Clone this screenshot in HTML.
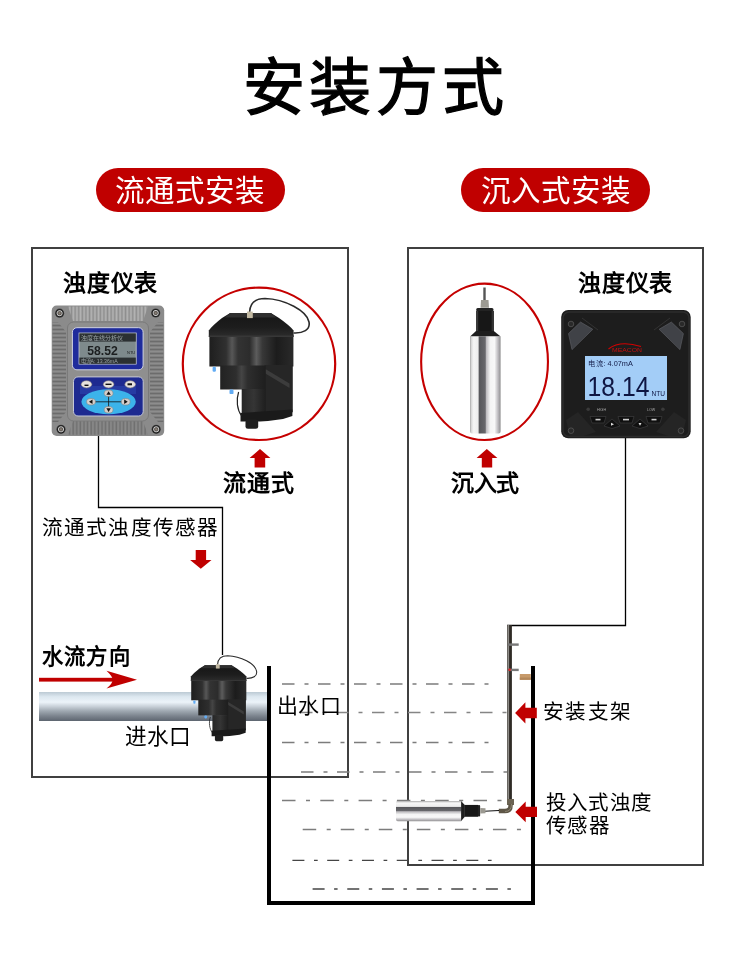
<!DOCTYPE html>
<html lang="zh-CN">
<head>
<meta charset="utf-8">
<style>
html,body{margin:0;padding:0;background:#fff;}
body{width:750px;height:962px;position:relative;overflow:hidden;font-family:"Liberation Sans",sans-serif;color:#000;}
.t{position:absolute;white-space:nowrap;line-height:1;will-change:transform;}
.b{font-weight:bold;}
.pill{position:absolute;top:168px;width:189px;height:44px;border-radius:22px;background:#c00000;}
.box{position:absolute;top:247px;border:2px solid #404040;box-sizing:border-box;}
svg{position:absolute;left:0;top:0;}
</style>
</head>
<body>
<div class="t" style="left:243.2px;top:58.2px;font-size:62px;letter-spacing:4.3px;-webkit-text-stroke:1.3px #000;">安装方式</div>

<div class="pill" style="left:96px;"></div>
<div class="pill" style="left:461px;"></div>
<div class="t" style="left:114.6px;top:176px;font-size:29.5px;color:#fff;">流通式安装</div>
<div class="t" style="left:481.1px;top:176px;font-size:29.5px;color:#fff;">沉入式安装</div>

<div class="box" style="left:31px;width:318px;height:531px;"></div>
<div class="box" style="left:407px;width:297px;height:619px;"></div>

<svg width="750" height="962" viewBox="0 0 750 962">
  <defs>
    <linearGradient id="pipe" x1="0" y1="0" x2="0" y2="1">
      <stop offset="0" stop-color="#bccad4"/>
      <stop offset="0.165" stop-color="#dde8f0"/>
      <stop offset="0.35" stop-color="#ecf3f9"/>
      <stop offset="0.5" stop-color="#c8d0d8"/>
      <stop offset="0.66" stop-color="#9ea7b0"/>
      <stop offset="0.83" stop-color="#7b838d"/>
      <stop offset="1" stop-color="#5d6570"/>
    </linearGradient>
  </defs>
  <!-- connection lines -->
  <g stroke="#000" stroke-width="1.3" fill="none">
    <polyline points="98.5,435 98.5,507.5 222.5,507.5 222.5,655"/>
    <polyline points="625.5,438 625.5,625.5 507,625.5"/>
  </g>
  <!-- pipe -->
  <rect x="39" y="692" width="228" height="29" fill="url(#pipe)"/>
  <!-- dashed water lines -->
  <g stroke="#7c7c7c" stroke-width="1.6" fill="none">
    <line x1="282" y1="684" x2="489" y2="684" stroke-dasharray="12.5 10 4 9.5"/>
    <line x1="300" y1="712.5" x2="507" y2="712.5" stroke-dasharray="12.5 10 4 9.5" stroke="#858585" stroke-width="1.5"/>
    <line x1="282" y1="742.5" x2="489" y2="742.5" stroke-dasharray="12.5 10 4 9.5"/>
    <line x1="301" y1="772" x2="507" y2="772" stroke-dasharray="12.5 10 4 9.5"/>
    <line x1="282" y1="800.5" x2="502" y2="800.5" stroke-dasharray="13.5 10.5 4 10.3"/>
    <line x1="302.7" y1="829.5" x2="522" y2="829.5" stroke-dasharray="13.5 10.5 4 10.05"/>
    <line x1="292.4" y1="860.3" x2="492" y2="860.3" stroke-dasharray="12 9.6 3.7 9.48" stroke="#454545" stroke-width="1.35"/>
    <line x1="312.6" y1="889" x2="512" y2="889" stroke-dasharray="12 9.5 3.5 9.66" stroke="#454545" stroke-width="1.35"/>
  </g>
  <!-- tank -->
  <g fill="#000">
    <rect x="267" y="666" width="4" height="239"/>
    <rect x="531" y="666" width="4" height="239"/>
    <rect x="267" y="901" width="268" height="4"/>
  </g>
  <!-- LEFT INSTRUMENT -->
  <defs>
    <pattern id="ribV" x="0" y="0" width="3.6" height="10" patternUnits="userSpaceOnUse">
      <rect width="3.6" height="10" fill="#8d8d8d"/><rect x="0.4" width="1.9" height="10" fill="#b3b3b3"/>
    </pattern>
    <pattern id="ribV2" x="0" y="0" width="3.6" height="10" patternUnits="userSpaceOnUse">
      <rect width="3.6" height="10" fill="#8a8a8a"/><rect x="0.4" width="1.6" height="10" fill="#6f6f6f"/>
    </pattern>
    <pattern id="ribH" x="0" y="0" width="10" height="4" patternUnits="userSpaceOnUse">
      <rect width="10" height="4" fill="#8d8d8d"/><rect y="0.6" width="10" height="1.8" fill="#6c6c6c"/>
    </pattern>
    <radialGradient id="screw" cx="0.5" cy="0.5" r="0.5">
      <stop offset="0" stop-color="#9a8f84"/><stop offset="0.35" stop-color="#5a5550"/><stop offset="0.55" stop-color="#c9c9c9"/><stop offset="0.75" stop-color="#1c1c1c"/><stop offset="1" stop-color="#444"/>
    </radialGradient>
  </defs>
  <g>
    <rect x="51.7" y="305.6" width="112.5" height="130.4" rx="5" fill="#8b8b8b"/>
    <path d="M68,306.5 L148,306.5 L143,321 L73,321 Z" fill="url(#ribV)"/>
    <path d="M52.5,322 L58,322 L66,332 L66,412 L58,422 L52.5,422 Z" fill="url(#ribH)"/>
    <path d="M163.3,322 L158,322 L150,332 L150,412 L158,422 L163.3,422 Z" fill="url(#ribH)"/>
    <path d="M73,421 L143,421 L148,434.8 L68,434.8 Z" fill="url(#ribV2)"/>
    <rect x="67.5" y="322" width="81" height="99" rx="6" fill="#8f8f8f" stroke="#7a7a7a" stroke-width="1"/>
    <circle cx="59.6" cy="313.2" r="4.6" fill="url(#screw)"/>
    <circle cx="155.7" cy="313" r="4.6" fill="url(#screw)"/>
    <circle cx="61" cy="429.3" r="4.6" fill="url(#screw)"/>
    <circle cx="156.2" cy="429.3" r="4.6" fill="url(#screw)"/>
    <rect x="72.4" y="327.7" width="70.7" height="42.1" rx="4.5" fill="#1f2c9c" stroke="#d0d3e2" stroke-width="1"/>
    <rect x="79" y="333" width="57.2" height="31.1" fill="#7e8a8c" stroke="#c7cacc" stroke-width="0.8"/>
    <rect x="79.4" y="333.4" width="56.4" height="8.2" fill="#2b3032"/>
    <rect x="79.4" y="357.6" width="56.4" height="6.2" fill="#2b3032"/>
    <text x="87.3" y="354.5" font-family="Liberation Sans, sans-serif" font-size="13.2" font-weight="bold" fill="#1c1f20" textLength="30.5" lengthAdjust="spacingAndGlyphs">58.52</text>
    <text x="127" y="354" font-family="Liberation Sans, sans-serif" font-size="4" fill="#1a1d1e">NTU</text>
    <text x="80.5" y="340" font-family="Liberation Sans, sans-serif" font-size="6" fill="#9aa3a5">浊度在线分析仪</text>
    <text x="80.5" y="363" font-family="Liberation Sans, sans-serif" font-size="5.2" fill="#9aa3a5">电流A: 13.36mA</text>
    <rect x="73.5" y="376.9" width="69.7" height="39.1" rx="4.5" fill="#1e2a90" stroke="#c5c8d6" stroke-width="1"/>
    <rect x="80" y="386" width="56" height="8" fill="#2b47b0" opacity="0.6"/>
    <ellipse cx="108.6" cy="401.8" rx="27.2" ry="12.5" fill="#3cb3ea"/>
    <g stroke="#111" stroke-width="0.8"><line x1="94" y1="401.8" x2="123" y2="401.8"/><line x1="108.6" y1="395" x2="108.6" y2="408.5"/></g>
    <g fill="#d5cfcb" stroke="#8c8580" stroke-width="0.6">
      <ellipse cx="86.5" cy="384.3" rx="5.3" ry="3.6" fill="#e6e2de"/>
      <ellipse cx="108.6" cy="384.3" rx="5.3" ry="3.6" fill="#e6e2de"/>
      <ellipse cx="130.2" cy="384.3" rx="5.3" ry="3.6" fill="#e6e2de"/>
      <ellipse cx="108.6" cy="393.3" rx="4.4" ry="3.3"/>
      <ellipse cx="91" cy="401.8" rx="4.4" ry="3.3"/>
      <ellipse cx="125.7" cy="401.8" rx="4.4" ry="3.3"/>
      <ellipse cx="108.6" cy="409.8" rx="4.4" ry="3.3"/>
    </g>
    <g fill="#111">
      <polygon points="108.6,391.2 110.8,394.8 106.4,394.8"/>
      <polygon points="108.6,411.9 110.8,408.3 106.4,408.3"/>
      <polygon points="89,401.8 92.5,399.6 92.5,404"/>
      <polygon points="127.7,401.8 124.2,399.6 124.2,404"/>
      <rect x="127.5" y="383.3" width="4.5" height="2" />
      <rect x="105.5" y="383.6" width="6" height="1.4" />
      <rect x="84.5" y="384.6" width="4" height="1.4" />
    </g>
  </g>

  <!-- RIGHT INSTRUMENT -->
  <g>
    <rect x="561.2" y="310" width="129.5" height="128.2" rx="7" fill="#1d1d1d"/>
    <rect x="563" y="312" width="126" height="124.5" rx="6" fill="none" stroke="#2c2c2c" stroke-width="1.5"/>
    <path d="M580.5,322.1 L592.8,329.3 L572,349.6 L568.5,333.6 Z" fill="#404247" stroke="#5a5c61" stroke-width="0.7"/>
    <path d="M671.4,322.1 L659.1,329.3 L679.9,349.6 L683.4,333.6 Z" fill="#404247" stroke="#5a5c61" stroke-width="0.7"/>
    <path d="M582,318 L598,330" stroke="#333" stroke-width="1"/>
    <path d="M670,318 L654,330" stroke="#333" stroke-width="1"/>
    <path d="M566,420 L578,412 L596,432 L584,436 L570,436 Z" fill="#252525"/>
    <path d="M686,420 L674,412 L656,432 L668,436 L682,436 Z" fill="#252525"/>
    <circle cx="571" cy="324" r="2.8" fill="#2a2a2a" stroke="#555" stroke-width="0.8"/>
    <circle cx="682" cy="324" r="2.8" fill="#2a2a2a" stroke="#555" stroke-width="0.8"/>
    <circle cx="571" cy="430.7" r="2.8" fill="#2a2a2a" stroke="#555" stroke-width="0.8"/>
    <circle cx="681" cy="430.7" r="2.8" fill="#2a2a2a" stroke="#555" stroke-width="0.8"/>
    <rect x="585" y="356" width="82" height="44" fill="#a3cdf7"/>
    <path d="M608.5,349 Q620,340 641,346.5" fill="none" stroke="#d40000" stroke-width="1.1"/>
    <text x="612" y="351.5" font-family="Liberation Sans, sans-serif" font-size="5.4" fill="#c41010" textLength="30" lengthAdjust="spacingAndGlyphs">MEACON</text>
    <text x="588.4" y="366" font-family="Liberation Sans, sans-serif" font-size="6.8" fill="#141c48" textLength="44.4" lengthAdjust="spacingAndGlyphs">电流:  4.07mA</text>
    <text x="587.6" y="395.6" font-family="Liberation Sans, sans-serif" font-size="27.5" fill="#0e1542" textLength="62" lengthAdjust="spacingAndGlyphs">18.14</text>
    <text x="651.6" y="395.7" font-family="Liberation Sans, sans-serif" font-size="6.6" fill="#0e1542" textLength="13.5" lengthAdjust="spacingAndGlyphs">NTU</text>
    <circle cx="588.2" cy="409.2" r="1.8" fill="#3a3a3a"/>
    <circle cx="662.9" cy="409.2" r="1.8" fill="#3a3a3a"/>
    <text x="597" y="410.8" font-family="Liberation Sans, sans-serif" font-size="3.6" fill="#aaa">HIGH</text>
    <text x="647" y="410.8" font-family="Liberation Sans, sans-serif" font-size="3.6" fill="#aaa">LOW</text>
    <g fill="#101010" stroke="#3c3c3e" stroke-width="0.7">
      <path d="M590,416.5 L606,416.5 L604,423 L592,423 Z"/>
      <path d="M618,416.5 L634,416.5 L632,423 L620,423 Z"/>
      <path d="M646,416.5 L662,416.5 L660,423 L648,423 Z"/>
      <path d="M612,419 L620,426 L612,428.5 L604,426 Z"/>
      <path d="M640,419 L648,426 L640,428.5 L632,426 Z"/>
    </g>
    <polygon points="611,422.8 614,424.3 611,425.8" fill="#ddd"/>
    <rect x="595.5" y="418.8" width="5" height="1.6" fill="#ccc"/><rect x="623" y="418.8" width="6" height="1.6" fill="#ccc"/><rect x="651.5" y="418.8" width="5" height="1.6" fill="#ccc"/>
    <polygon points="638.5,423 641.5,423 640,425.8" fill="#ddd"/>
  </g>

  <!-- FLOW SENSOR (big) -->
  <defs>
    <linearGradient id="bodyG" x1="0" y1="0" x2="1" y2="0">
      <stop offset="0" stop-color="#1e1e1e"/>
      <stop offset="0.2" stop-color="#303030"/>
      <stop offset="0.27" stop-color="#575757"/>
      <stop offset="0.34" stop-color="#333"/>
      <stop offset="0.48" stop-color="#2c2c2c"/>
      <stop offset="0.56" stop-color="#5c5c5c"/>
      <stop offset="0.63" stop-color="#383838"/>
      <stop offset="0.8" stop-color="#1c1c1c"/>
      <stop offset="1" stop-color="#2a2a2a"/>
    </linearGradient>
    <linearGradient id="hoodG" x1="0" y1="0" x2="0" y2="1">
      <stop offset="0" stop-color="#151515"/>
      <stop offset="0.6" stop-color="#1d1d1d"/>
      <stop offset="1" stop-color="#2c2c2c"/>
    </linearGradient>
    <linearGradient id="lowG" x1="0" y1="0" x2="1" y2="0">
      <stop offset="0" stop-color="#222"/><stop offset="0.35" stop-color="#2e2e2e"/><stop offset="0.47" stop-color="#454545"/><stop offset="0.6" stop-color="#2e2e2e"/><stop offset="1" stop-color="#1e1e1e"/>
    </linearGradient>
    <linearGradient id="colG" x1="0" y1="0" x2="1" y2="0">
      <stop offset="0" stop-color="#262626"/><stop offset="0.5" stop-color="#353535"/><stop offset="1" stop-color="#1e1e1e"/>
    </linearGradient>
    <g id="flow">
      <path d="M249.6,312 C250,303 255.5,298.5 265,298.5 C285,299 307,311 309,322 C310.5,330 303,333.5 293.6,333" fill="none" stroke="#2b2b2b" stroke-width="1.6"/>
      <rect x="209.4" y="335" width="84" height="31.5" fill="url(#bodyG)"/>
      <path d="M264.5,365 L292.8,365 L292.8,412.3 L264.5,412.3 Z" fill="#262626"/>
      <path d="M264.5,368.5 L289.5,383.5 L289.5,388 L264.5,373 Z" fill="#3c3c3c"/>
      <rect x="220.2" y="365.5" width="45.6" height="24" fill="url(#lowG)"/>
      <rect x="241.7" y="389" width="24.1" height="30" fill="url(#colG)"/>
      <path d="M240.5,413 L292.4,409.5 L292.4,416 L283,419 L268,421 L260,421.4 L240.5,421.4 Z" fill="#1a1a1a"/>
      <rect x="245.5" y="419.5" width="12.7" height="9.3" rx="2.5" fill="#1f1f1f"/>
      <path d="M230.2,312.9 L270.9,312.9 L279,318 Q289,325 293.6,330.4 L293.6,336.9 L208.8,336.9 L208.8,330.4 Q213,325 222,318 Z" fill="url(#hoodG)"/>
      <path d="M230.2,312.9 L270.9,312.9 L276.5,317.6 L224.5,317.6 Z" fill="#2f2f2f"/>
      <path d="M208.8,336.2 L293.6,336.2" stroke="#3d3d3d" stroke-width="1"/>
      <rect x="247" y="311.6" width="5.8" height="6.5" fill="#c2b9a2"/>
      <rect x="212.6" y="366.7" width="3.3" height="5" rx="1.2" fill="#62acf4"/>
      <rect x="229.5" y="389.5" width="4" height="4.6" rx="1.2" fill="#62acf4"/>
      <path d="M238.6,392 C236,400 237,410 241.7,416" fill="none" stroke="#222" stroke-width="1.2"/>
    </g>
  </defs>
  <use href="#flow"/>
  <use href="#flow" transform="translate(53.85,459.87) scale(0.656)"/>

  <!-- SUBMERSIBLE SENSOR -->
  <defs>
    <linearGradient id="steel" x1="0" y1="0" x2="1" y2="0">
      <stop offset="0" stop-color="#a0a0a0"/>
      <stop offset="0.05" stop-color="#dedede"/>
      <stop offset="0.12" stop-color="#f5f5f5"/>
      <stop offset="0.27" stop-color="#ececec"/>
      <stop offset="0.285" stop-color="#56565a"/>
      <stop offset="0.5" stop-color="#68686c"/>
      <stop offset="0.52" stop-color="#b9b7bb"/>
      <stop offset="0.66" stop-color="#f4f4f4"/>
      <stop offset="0.8" stop-color="#f8f8f8"/>
      <stop offset="0.93" stop-color="#b5b3b7"/>
      <stop offset="1" stop-color="#8e8e8e"/>
    </linearGradient>
    <g id="sub">
      <line x1="484.5" y1="287.5" x2="484.5" y2="301" stroke="#555" stroke-width="2.4"/>
      <path d="M481,300 L488.5,300 L489,307.8 L480.5,307.8 Z" fill="#9c9a92"/>
      <rect x="476.2" y="308" width="17.3" height="3.4" rx="1.5" fill="#222"/>
      <rect x="476" y="311" width="17.8" height="20.5" fill="#171717"/>
      <rect x="476" y="311" width="2.2" height="20.5" fill="#3a3a3a"/>
      <rect x="491.6" y="311" width="2.2" height="20.5" fill="#333"/>
      <path d="M476,331 L493.8,331 L500.6,336.5 L470.1,336.5 Z" fill="#1e1e1e"/>
      <path d="M470.1,336.5 L500.6,336.5 L500.6,431 Q500.6,433.6 497.6,433.6 L473.1,433.6 Q470.1,433.6 470.1,431 Z" fill="url(#steel)"/>
    </g>
  </defs>
  <use href="#sub"/>

  <!-- ROD / BRACKET -->
  <g>
    <rect x="507.1" y="625" width="4.8" height="176" fill="#2f2b25"/>
    <rect x="507.5" y="625" width="1.6" height="176" fill="#8e8c88"/>
    <rect x="508" y="643.4" width="10.7" height="2.4" fill="#777"/>
    <rect x="508" y="668.7" width="10.7" height="2.4" fill="#777"/>
    <circle cx="509.6" cy="669.8" r="1.3" fill="#e02020"/>
    <rect x="519.8" y="674" width="11" height="5.8" fill="#c79a6a"/><rect x="519.8" y="677.5" width="11" height="2.3" fill="#b3875a"/>
    <rect x="507" y="799" width="7" height="6" fill="#6b6353"/>
    <path d="M510.5,804 L510.5,806 Q510.5,811 505,811 L498.8,811" fill="none" stroke="#5e5647" stroke-width="4.4"/>
    <path d="M511.5,804 Q511.5,811.5 505,811.5" fill="none" stroke="#8a826f" stroke-width="1"/>
    <line x1="484" y1="811.2" x2="499" y2="810.5" stroke="#111" stroke-width="1.1"/>
  </g>

  <!-- HORIZONTAL SUBMERSIBLE SENSOR -->
  <g transform="matrix(0,0.666,-0.67,0,686.51,487.91)">
    <path d="M476,331 L493.8,331 L500.6,336.5 L470.1,336.5 Z" fill="#1e1e1e"/>
    <rect x="476" y="311" width="17.8" height="20.5" fill="#171717"/>
    <rect x="476.2" y="308" width="17.3" height="3.4" rx="1.5" fill="#222"/>
    <path d="M481,300 L488.5,300 L489,307.8 L480.5,307.8 Z" fill="#9c9a92"/>
    <path d="M470.1,336.5 L500.6,336.5 L500.6,431 Q500.6,433.6 497.6,433.6 L473.1,433.6 Q470.1,433.6 470.1,431 Z" fill="url(#steel)"/>
  </g>

  <!-- circle & ellipse -->
  <circle cx="259" cy="363.8" r="76.2" fill="none" stroke="#c50000" stroke-width="2.2"/>
  <ellipse cx="484.55" cy="361.8" rx="63.4" ry="78.2" fill="none" stroke="#c50000" stroke-width="2.1"/>
  <!-- red arrows -->
  <g fill="#c00000">
    <polygon points="260,449 270.4,458 265.2,458 265.2,467.6 254.6,467.6 254.6,458 249.6,458"/>
    <polygon points="486.8,449 497.4,458 492.2,458 492.2,467.6 481.8,467.6 481.8,458 476.6,458"/>
    <polygon points="195.7,550 206.1,550 206.1,560 211.5,560 200.8,568.8 190.1,560 195.7,560"/>
    <polygon points="515.1,712.9 525.4,702.2 525.4,707.8 536.8,707.8 536.8,718.3 525.4,718.3 525.4,723.4"/>
    <polygon points="515.3,811.9 525.7,801.5 525.7,806.7 537,806.7 537,817 525.7,817 525.7,822.2"/>
    <rect x="39" y="677.8" width="76" height="3.8"/>
    <path d="M137,679.7 L106.5,670.8 Q113,677 112.5,679.7 Q113,683 106.5,688.5 Z"/>
  </g>
</svg>

<div class="t b" style="left:62.8px;top:271.7px;font-size:23px;letter-spacing:0.8px;">浊度仪表</div>
<div class="t b" style="left:577.8px;top:271.7px;font-size:23px;letter-spacing:0.8px;">浊度仪表</div>
<div class="t b" style="left:223px;top:472px;font-size:23px;letter-spacing:0.75px;">流通式</div>
<div class="t b" style="left:451px;top:472px;font-size:23px;letter-spacing:-0.3px;">沉入式</div>
<div class="t" style="left:42px;top:517.6px;font-size:20.6px;letter-spacing:1.15px;">流通式浊度传感器</div>
<div class="t b" style="left:42px;top:647px;font-size:21.3px;letter-spacing:1.2px;">水流方向</div>
<div class="t" style="left:277.3px;top:695px;font-size:21px;letter-spacing:0.3px;">出水口</div>
<div class="t" style="left:125px;top:725.7px;font-size:21.7px;">进水口</div>
<div class="t" style="left:542.6px;top:702.3px;font-size:20.6px;letter-spacing:1.4px;">安装支架</div>
<div class="t" style="left:546px;top:792.6px;font-size:20.5px;letter-spacing:1.2px;">投入式浊度</div>
<div class="t" style="left:546.3px;top:816.4px;font-size:20.5px;letter-spacing:1.4px;">传感器</div>

</body>
</html>
